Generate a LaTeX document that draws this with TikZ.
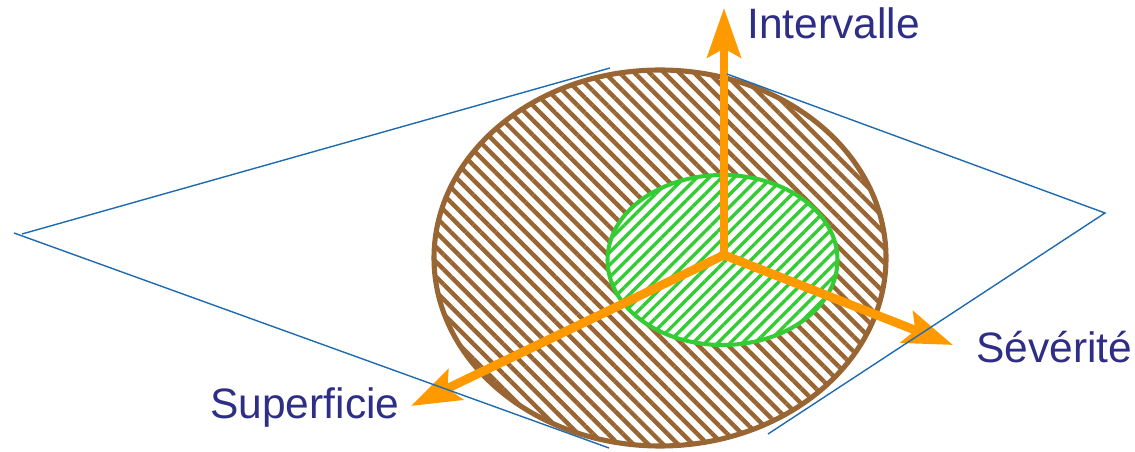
\documentclass[tikz,border=0pt]{standalone}
\usepackage{fontspec}
\setmainfont{Liberation Sans}
\usetikzlibrary{arrows.meta, positioning, calc}
\usetikzlibrary{patterns, patterns.meta}
\definecolor{planblue}{HTML}{1F6BB0}
\definecolor{bordbrun}{HTML}{996633}
\definecolor{bordvert}{HTML}{33CC33}
\definecolor{axeorange}{HTML}{FF9900}
\definecolor{texteblue}{HTML}{2E2E86}
\begin{document}
\begin{tikzpicture}[x=0.02cm, y=-0.02cm,
    plan/.style={planblue, line width=0.8pt},
    axe/.style={axeorange, line width=5pt,
        -{Stealth[length=28pt, width=19pt, inset=5pt]}},
    etiquette/.style={texteblue, inner sep=0pt, anchor=base west,
        font=\fontsize{24.2}{29}\selectfont}]
    \useasboundingbox (0, 0) rectangle (1135, 452);
    % Coins du plan
    \coordinate (G1) at (22, 234);
    \coordinate (G2) at (14, 233);
    \coordinate (D) at (1105, 213);
    \coordinate (H1) at (610, 68);
    \coordinate (B1) at (609, 448);
    \coordinate (H2) at (727, 74);
    \coordinate (B2) at (768, 434);
    
    % Grande ellipse hachurée (brun)
    \fill[white] (660, 258) ellipse [x radius=226, y radius=188];
    \fill[pattern={Lines[angle=-45, distance=6pt, line width=2.5pt]},
        pattern color=bordbrun] (660, 258) ellipse [x radius=226, y radius=188];
    \draw[bordbrun, line width=2.9pt] (660, 258) ellipse [x radius=226, y radius=188];
    
    % Petite ellipse hachurée (vert)
    \fill[white] (722.5, 260) ellipse [x radius=115, y radius=85];
    \fill[pattern={Lines[angle=45, distance=5pt, line width=1.9pt]},
        pattern color=bordvert] (722.5, 260) ellipse [x radius=115, y radius=85];
    \draw[bordvert, line width=2.3pt] (722.5, 260) ellipse [x radius=115, y radius=85];
    
    % Les trois axes
    \coordinate (O) at (724, 255);
    \coordinate (I) at (724, 8);
    \coordinate (S) at (953, 345);
    \coordinate (P) at (411, 406);
    \draw[axe] (O) -- (I);
    \draw[axe] (O) -- (S);
    \draw[axe] (O) -- (P);
    
    % Bords du plan
    \draw[plan] (G1) -- (H1);
    \draw[plan] (G2) -- (B1);
    \draw[plan] (H2) -- (D) -- (B2);
    
    % Noms des axes
    \node[etiquette] (intervalle) at (747, 39) {Intervalle};
    \node[etiquette] (severite) at (976, 362) {Sévérité};
    \node[etiquette] (superficie) at (210, 418) {Superficie};
\end{tikzpicture}
\end{document}
